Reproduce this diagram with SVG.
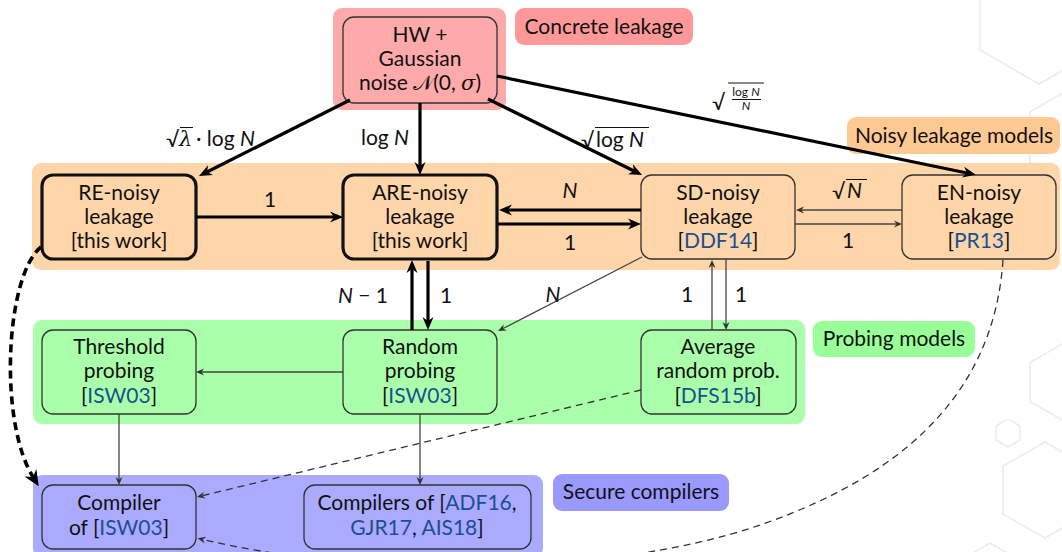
<svg xmlns="http://www.w3.org/2000/svg" width="1062" height="552" viewBox="0 0 1062 552">
  <style>
    text { font-family: Lato, "DejaVu Sans", sans-serif; font-size: 21px; fill: #111; }
    .c { text-anchor: middle; }
    .i { font-style: italic; }
    .g { font-family: "DejaVu Serif", serif; font-style: italic; }
    .cite { fill: #1b4f8f; }
    .small { font-size: 12px; }
    .hex { fill: none; stroke: #ececec; stroke-width: 1.6; }
    .node { stroke: #333; stroke-width: 1.3; }
    .bold { stroke: #111; stroke-width: 3.2; }
    .thick { fill: none; stroke: #000; stroke-width: 3.2; }
    .thin { fill: none; stroke: #444; stroke-width: 1.3; }
    .dash { fill: none; stroke: #333; stroke-width: 1.3; stroke-dasharray: 7 5; }
    .bigdash { fill: none; stroke: #000; stroke-width: 3.6; stroke-dasharray: 8 5; }
    .rule { stroke: #111; stroke-width: 1; }
  </style>
  <defs>
    <marker id="ah-thick" viewBox="0 -6 14 12" refX="4" refY="0" markerWidth="14" markerHeight="12" markerUnits="userSpaceOnUse" orient="auto">
      <path d="M0,-5.5 L13,0 L0,5.5 L4,0 Z" fill="#000"/>
    </marker>
    <marker id="ah-big" viewBox="0 -8 17 16" refX="5" refY="0" markerWidth="17" markerHeight="16" markerUnits="userSpaceOnUse" orient="auto">
      <path d="M0,-7 L16,0 L0,7 L5,0 Z" fill="#000"/>
    </marker>
    <marker id="ah-thin" viewBox="0 -4 9 8" refX="2.5" refY="0" markerWidth="9" markerHeight="8" markerUnits="userSpaceOnUse" orient="auto">
      <path d="M0,-3.5 L8,0 L0,3.5 L2.5,0 Z" fill="#333"/>
    </marker>
  </defs>

  <rect width="1062" height="552" fill="#fff"/>

  <!-- faint hexagon decoration -->
  <g id="decor">
    <polygon class="hex" points="1039,-52 1098,-18 1098,50 1039,84 980,50 980,-18"/>
    <polygon class="hex" points="1073,87 1116,112 1116,162 1073,187 1030,162 1030,112"/>
    <polygon class="hex" points="1064,343 1098,362.5 1098,401.5 1064,421 1030,401.5 1030,362.5"/>
    <polygon class="hex" points="1008,419 1020,426 1020,440 1008,447 996,440 996,426"/>
    <polygon class="hex" points="1045,442 1087,466 1087,514 1045,538 1003,514 1003,466"/>
    <polygon class="hex" points="990,543 1016,558 1016,588 990,603 964,588 964,558"/>
  </g>

  <!-- model families -->
  <g id="regions">
    <rect x="333" y="8" width="173" height="102" rx="9" fill="#ffaaaa"/>
    <rect x="515" y="8" width="178" height="37" rx="9" fill="#ff9999"/>
    <rect x="32" y="163" width="1028" height="107" rx="9" fill="#ffd5aa"/>
    <rect x="847" y="117" width="213" height="37" rx="9" fill="#ffc994"/>
    <rect x="33" y="320" width="772" height="104" rx="9" fill="#aaffaa"/>
    <rect x="813" y="321" width="162" height="36" rx="9" fill="#99ff99"/>
    <rect x="33" y="475" width="510" height="82" rx="9" fill="#aaaaff"/>
    <rect x="553" y="474" width="176" height="37" rx="9" fill="#9999ff"/>
    <text class="c" x="604" y="34">Concrete leakage</text>
    <text class="c" x="954" y="143">Noisy leakage models</text>
    <text class="c" x="894" y="346">Probing models</text>
    <text class="c" x="641" y="499">Secure compilers</text>
  </g>

  <!-- nodes -->
  <g id="hw">
    <rect class="node" x="343" y="17" width="154" height="86" rx="11" fill="#ffaaaa"/>
    <text class="c" x="420" y="42">HW +</text>
    <text class="c" x="420" y="66">Gaussian</text>
    <text class="c" x="420" y="90">noise <tspan font-family="'DejaVu Sans', serif">𝒩</tspan>(0, <tspan class="g">σ</tspan>)</text>
  </g>
  <g id="re-noisy">
    <rect class="bold" x="42" y="175" width="154" height="84" rx="11" fill="#ffd5aa"/>
    <text class="c" x="119" y="200">RE-noisy</text>
    <text class="c" x="119" y="224">leakage</text>
    <text class="c" x="119" y="248">[this work]</text>
  </g>
  <g id="are-noisy">
    <rect class="bold" x="343" y="175" width="154" height="84" rx="11" fill="#ffd5aa"/>
    <text class="c" x="420" y="200">ARE-noisy</text>
    <text class="c" x="420" y="224">leakage</text>
    <text class="c" x="420" y="248">[this work]</text>
  </g>
  <g id="sd-noisy">
    <rect class="node" x="641" y="175" width="154" height="84" rx="11" fill="#ffd5aa"/>
    <text class="c" x="718" y="200">SD-noisy</text>
    <text class="c" x="718" y="224">leakage</text>
    <text class="c" x="718" y="248">[<tspan class="cite">DDF14</tspan>]</text>
  </g>
  <g id="en-noisy">
    <rect class="node" x="902" y="175" width="154" height="84" rx="11" fill="#ffd5aa"/>
    <text class="c" x="979" y="200">EN-noisy</text>
    <text class="c" x="979" y="224">leakage</text>
    <text class="c" x="979" y="248">[<tspan class="cite">PR13</tspan>]</text>
  </g>
  <g id="threshold">
    <rect class="node" x="42" y="330" width="154" height="84" rx="11" fill="#aaffaa"/>
    <text class="c" x="119" y="354">Threshold</text>
    <text class="c" x="119" y="378">probing</text>
    <text class="c" x="119" y="403">[<tspan class="cite">ISW03</tspan>]</text>
  </g>
  <g id="random">
    <rect class="node" x="343" y="330" width="154" height="84" rx="11" fill="#aaffaa"/>
    <text class="c" x="420" y="354">Random</text>
    <text class="c" x="420" y="378">probing</text>
    <text class="c" x="420" y="403">[<tspan class="cite">ISW03</tspan>]</text>
  </g>
  <g id="average">
    <rect class="node" x="641" y="330" width="155" height="84" rx="11" fill="#aaffaa"/>
    <text class="c" x="718" y="354">Average</text>
    <text class="c" x="718" y="378">random prob.</text>
    <text class="c" x="718" y="403">[<tspan class="cite">DFS15b</tspan>]</text>
  </g>
  <g id="compiler-isw">
    <rect class="node" x="42" y="485" width="154" height="64" rx="11" fill="#aaaaff"/>
    <text class="c" x="119" y="510">Compiler</text>
    <text class="c" x="119" y="535">of [<tspan class="cite">ISW03</tspan>]</text>
  </g>
  <g id="compilers">
    <rect class="node" x="304" y="485" width="227" height="64" rx="11" fill="#aaaaff"/>
    <text class="c" x="417" y="510">Compilers of [<tspan class="cite">ADF16</tspan>,</text>
    <text class="c" x="417" y="535"><tspan class="cite">GJR17</tspan>, <tspan class="cite">AIS18</tspan>]</text>
  </g>

  <!-- connectors -->
  <g id="edges">
    <line class="thick" x1="350" y1="100" x2="207" y2="172" marker-end="url(#ah-thick)"/>
    <line class="thick" x1="420" y1="103" x2="420" y2="166" marker-end="url(#ah-thick)"/>
    <line class="thick" x1="488" y1="99" x2="634" y2="171" marker-end="url(#ah-thick)"/>
    <line class="thick" x1="497" y1="76" x2="967" y2="173" marker-end="url(#ah-thick)"/>
    <line class="thick" x1="196" y1="217" x2="334" y2="217" marker-end="url(#ah-thick)"/>
    <line class="thick" x1="641" y1="210" x2="508" y2="210" marker-end="url(#ah-thick)"/>
    <line class="thick" x1="498" y1="224" x2="632" y2="224" marker-end="url(#ah-thick)"/>
    <line class="thick" x1="412" y1="330" x2="412" y2="269" marker-end="url(#ah-thick)"/>
    <line class="thick" x1="428" y1="261" x2="428" y2="321" marker-end="url(#ah-thick)"/>

    <line class="thin" x1="902" y1="210" x2="801.5" y2="210" marker-end="url(#ah-thin)"/>
    <line class="thin" x1="795" y1="224" x2="896.5" y2="224" marker-end="url(#ah-thin)"/>
    <line class="thin" x1="642" y1="257" x2="503" y2="328.5" marker-end="url(#ah-thin)"/>
    <line class="thin" x1="712" y1="330" x2="712" y2="265.5" marker-end="url(#ah-thin)"/>
    <line class="thin" x1="726" y1="259" x2="726" y2="324.5" marker-end="url(#ah-thin)"/>
    <line class="thin" x1="343" y1="372" x2="201.5" y2="372" marker-end="url(#ah-thin)"/>
    <line class="thin" x1="119" y1="414" x2="119" y2="479.5" marker-end="url(#ah-thin)"/>
    <line class="thin" x1="420" y1="414" x2="420" y2="479.5" marker-end="url(#ah-thin)"/>

    <line class="dash" x1="641" y1="390" x2="202.3" y2="495.7" marker-end="url(#ah-thin)"/>
    <path class="dash" d="M1003,260 C995,380 920,470 760,525 C600,580 350,575 203,539.5" marker-end="url(#ah-thin)"/>
    <path class="bigdash" d="M41,247 C6,275 -2,420 33,477" marker-end="url(#ah-big)"/>

    <!-- edge labels -->
    <text x="166" y="147" font-size="23">√</text>
    <line class="rule" x1="180" y1="127.5" x2="193" y2="127.5"/>
    <text class="g" x="179" y="146">λ</text>
    <text x="196" y="146">· log <tspan class="i">N</tspan></text>
    <text x="361" y="145">log <tspan class="i">N</tspan></text>
    <text x="581" y="148" font-size="23">√</text>
    <line class="rule" x1="595" y1="127.5" x2="649" y2="127.5"/>
    <text x="596" y="147">log <tspan class="i">N</tspan></text>
    <text x="712" y="110" font-size="28">√</text>
    <line class="rule" x1="728" y1="83" x2="764" y2="83"/>
    <text class="small c" x="746" y="96">log <tspan class="i">N</tspan></text>
    <line class="rule" x1="732" y1="99.5" x2="761" y2="99.5" stroke-width="0.8"/>
    <text class="small c i" x="746" y="110">N</text>
    <text class="c i" x="570" y="198">N</text>
    <text class="c" x="570" y="250">1</text>
    <text class="c" x="270" y="207">1</text>
    <text x="832" y="199" font-size="23">√</text>
    <line class="rule" x1="846" y1="179.5" x2="867" y2="179.5"/>
    <text class="i" x="847" y="198">N</text>
    <text class="c" x="848" y="248">1</text>
    <text x="338" y="303"><tspan class="i">N</tspan> − 1</text>
    <text class="c" x="446" y="303">1</text>
    <text class="c i" x="553" y="302">N</text>
    <text class="c" x="687" y="302">1</text>
    <text class="c" x="741" y="302">1</text>
  </g>
</svg>
